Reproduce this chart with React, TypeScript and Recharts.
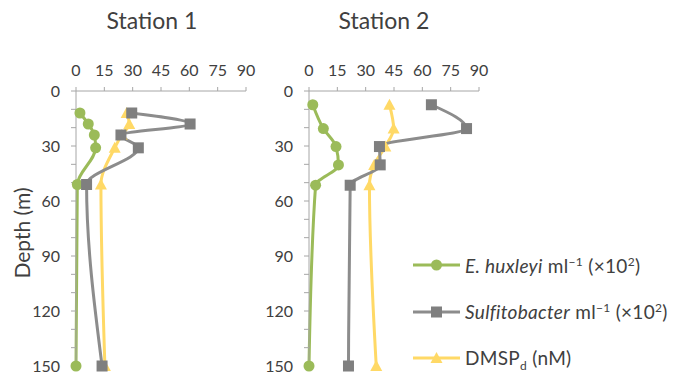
import React from "react";
import { Line, LineChart, XAxis, YAxis } from "recharts";

// depth profiles
const depths1 = [12, 18, 24, 31, 51, 150];
const ehux1 = [2.1, 6.5, 9.7, 10.4, 0.7, 0];
const sulf1 = [29.5, 60.4, 23.8, 33, 5.6, 13.8];
const dmsp1 = [26.8, 28.2, 24.2, 20.5, 13.2, 15.3];

const depths2 = [7.5, 20.5, 30.3, 40.3, 51.4, 150];
const ehux2 = [2, 7.6, 14.3, 15.6, 3.5, 0];
const sulf2 = [64.8, 83.4, 37.3, 37.7, 21.8, 20.9];
const dmsp2 = [42.6, 44.8, 40.4, 34.5, 32, 35.6];

const xTicks = [0, 15, 30, 45, 60, 75, 90];
const depthTicks = [0, 10, 20, 30, 40, 50, 60, 70, 80, 90, 100, 110, 120, 130, 140, 150];

const GREEN = "#9BBB59";
const GRAY = "#8C8C8C";
const GRAY_MARK = "#7F7F7F";
const YELLOW = "#FFD966";
const AXIS = "#A6A6A6";
const TEXT = "#404040";
const FONT = "Lato, 'Open Sans', sans-serif";

function buildRows(depths: number[], ehux: number[], sulf: number[], dmsp: number[]) {
  return depths.map((depth, i) => ({ depth, ehux: ehux[i], sulf: sulf[i], dmsp: dmsp[i] }));
}

const circleDot = (p: any) => (
  <circle key={`c${p.index}`} cx={p.cx} cy={p.cy} r={5.5} fill={GREEN} />
);
const squareDot = (p: any) => (
  <rect key={`s${p.index}`} x={p.cx - 5.5} y={p.cy - 5.5} width={11} height={11} fill={GRAY_MARK} />
);
const triDot = (p: any) => (
  <polygon
    key={`t${p.index}`}
    points={`${p.cx},${p.cy - 6} ${p.cx + 6},${p.cy + 5} ${p.cx - 6},${p.cy + 5}`}
    fill={YELLOW}
  />
);

function depthTick(v: number) {
  return v % 30 === 0 ? String(v) : "";
}

function Profile({ rows }: { rows: ReturnType<typeof buildRows> }) {
  return (
    <LineChart
      width={260}
      height={373}
      data={rows}
      layout="vertical"
      margin={{ top: 61, right: 14, bottom: 7, left: 16 }}
    >
      <XAxis
        type="number"
        orientation="top"
        domain={[0, 90]}
        ticks={xTicks}
        height={30}
        tickSize={4}
        tickMargin={11}
        stroke={AXIS}
        tick={{ fill: TEXT, fontSize: 16 }}
      />
      <YAxis
        type="number"
        dataKey="depth"
        domain={[0, 150]}
        ticks={depthTicks}
        interval={0}
        tickFormatter={depthTick}
        width={60}
        tickSize={5}
        tickMargin={11}
        stroke={AXIS}
        tick={{ fill: TEXT, fontSize: 16 }}
      />
      <Line
        dataKey="dmsp"
        type="monotone"
        stroke={YELLOW}
        strokeWidth={3}
        dot={triDot}
        activeDot={false}
        isAnimationActive={false}
      />
      <Line
        dataKey="ehux"
        type="monotone"
        stroke={GREEN}
        strokeWidth={3}
        dot={circleDot}
        activeDot={false}
        isAnimationActive={false}
      />
      <Line
        dataKey="sulf"
        type="monotone"
        stroke={GRAY}
        strokeWidth={3}
        dot={squareDot}
        activeDot={false}
        isAnimationActive={false}
      />
    </LineChart>
  );
}

function LegendRow({ top, marker, children }: { top: number; marker: React.ReactNode; children: React.ReactNode }) {
  return (
    <div style={{ position: "absolute", left: 412, top: top - 12, height: 24, display: "flex", alignItems: "center" }}>
      <svg width={50} height={24} style={{ display: "block" }}>
        {marker}
      </svg>
      <span style={{ marginLeft: 3, fontSize: 19, letterSpacing: 0.3, color: TEXT, whiteSpace: "nowrap" }}>
        {children}
      </span>
    </div>
  );
}

export default function App() {
  const rows1 = buildRows(depths1, ehux1, sulf1, dmsp1);
  const rows2 = buildRows(depths2, ehux2, sulf2, dmsp2);
  const sup: React.CSSProperties = { fontSize: 12, verticalAlign: 7, lineHeight: 0 };
  return (
    <div
      style={{
        position: "absolute",
        left: 0,
        top: 0,
        width: 681,
        height: 373,
        background: "#fff",
        fontFamily: FONT,
        overflow: "hidden",
      }}
    >
      <div style={{ position: "absolute", left: 0, top: 0 }}>
        <Profile rows={rows1} />
      </div>
      <div style={{ position: "absolute", left: 233, top: 0 }}>
        <Profile rows={rows2} />
      </div>

      <div style={{ position: "absolute", left: 52, width: 200, top: 6, textAlign: "center", fontSize: 23, color: TEXT }}>
        Station 1
      </div>
      <div style={{ position: "absolute", left: 284, width: 200, top: 6, textAlign: "center", fontSize: 23, color: TEXT }}>
        Station 2
      </div>

      <div
        style={{
          position: "absolute",
          left: 21,
          top: 233,
          transform: "translate(-50%, -50%) rotate(-90deg)",
          fontSize: 21,
          color: TEXT,
          whiteSpace: "nowrap",
        }}
      >
        Depth (m)
      </div>

      <LegendRow
        top={265}
        marker={
          <>
            <line x1={1} y1={12} x2={48} y2={12} stroke={GREEN} strokeWidth={3} />
            <circle cx={24.5} cy={12} r={5.5} fill={GREEN} />
          </>
        }
      >
        <i>E. huxleyi</i> ml<span style={sup}>−1</span> (×10<span style={sup}>2</span>)
      </LegendRow>
      <LegendRow
        top={311.5}
        marker={
          <>
            <line x1={1} y1={12} x2={48} y2={12} stroke={GRAY} strokeWidth={3} />
            <rect x={19} y={6.5} width={11} height={11} fill={GRAY_MARK} />
          </>
        }
      >
        <i>Sulfitobacter</i> ml<span style={sup}>−1</span> (×10<span style={sup}>2</span>)
      </LegendRow>
      <LegendRow
        top={357.5}
        marker={
          <>
            <line x1={1} y1={12} x2={48} y2={12} stroke={YELLOW} strokeWidth={3} />
            <polygon points="24.5,6 30.5,17 18.5,17" fill={YELLOW} />
          </>
        }
      >
        DMSP<span style={{ fontSize: 12, verticalAlign: -5, lineHeight: 0 }}>d</span> (nM)
      </LegendRow>
    </div>
  );
}
